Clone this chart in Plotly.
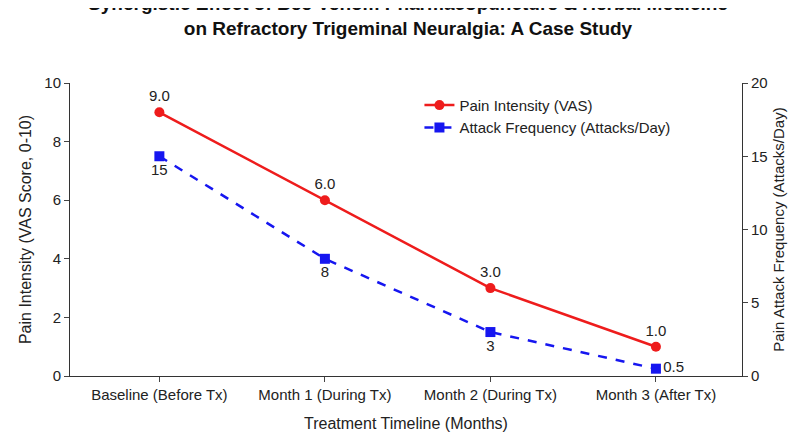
import plotly.graph_objects as go

timeline = ["Baseline (Before Tx)", "Month 1 (During Tx)", "Month 2 (During Tx)", "Month 3 (After Tx)"]
vas_scores = [9.0, 6.0, 3.0, 1.0]
attacks_per_day = [15, 8, 3, 0.5]
vas_labels = ["9.0", "6.0", "3.0", "1.0"]
attack_labels = ["15", "8", "3", "0.5"]

fig = go.Figure()

fig.add_trace(go.Scatter(
    x=timeline, y=vas_scores,
    mode="lines+markers+text",
    name="Pain Intensity (VAS)",
    line=dict(color="#ee1c1c", width=2.5),
    marker=dict(size=10, color="#ee1c1c"),
    text=vas_labels, textposition="top center",
    textfont=dict(size=15, color="#222"),
))

fig.add_trace(go.Scatter(
    x=timeline, y=attacks_per_day,
    mode="lines+markers+text",
    name="Attack Frequency (Attacks/Day)",
    line=dict(color="#1616f0", width=2.5, dash="dash"),
    marker=dict(size=10, color="#1616f0", symbol="square"),
    text=attack_labels, textposition=["bottom center", "bottom center", "bottom center", "middle right"],
    textfont=dict(size=15, color="#222"),
    yaxis="y2",
))

fig.update_layout(
    width=800, height=436,
    plot_bgcolor="white", paper_bgcolor="white",
    font=dict(family="Liberation Sans, Arial, sans-serif", size=15, color="#222"),
    title=dict(
        text="<b>Synergistic Effect of Bee Venom Pharmacopuncture & Herbal Medicine<br>on Refractory Trigeminal Neuralgia: A Case Study</b>",
        x=0.5, xanchor="center", yref="container", y=0.995, yanchor="top",
        font=dict(size=19, color="#111"),
    ),
    margin=dict(l=62, r=66, t=75, b=68),
    xaxis=dict(
        title=dict(text="Treatment Timeline (Months)", font=dict(size=16)),
        showline=True, linecolor="#333", ticks="outside", range=[-0.54, 3.52],
        tickfont=dict(size=15),
    ),
    yaxis=dict(
        title=dict(text="Pain Intensity (VAS Score, 0-10)", font=dict(size=16), standoff=8),
        range=[0, 10], dtick=2, showline=True, linecolor="#333", ticks="outside",
        showgrid=False, zeroline=False, tickfont=dict(size=15),
    ),
    yaxis2=dict(
        title=dict(text="Pain Attack Frequency (Attacks/Day)", font=dict(size=15), standoff=6),
        range=[0, 20], dtick=5, overlaying="y", side="right",
        showline=True, linecolor="#333", ticks="outside",
        showgrid=False, zeroline=False, tickfont=dict(size=15),
    ),
    legend=dict(x=0.52, y=0.98, xanchor="left", yanchor="top",
                bgcolor="rgba(255,255,255,0)", font=dict(size=15)),
)

fig.write_html("out.html")
